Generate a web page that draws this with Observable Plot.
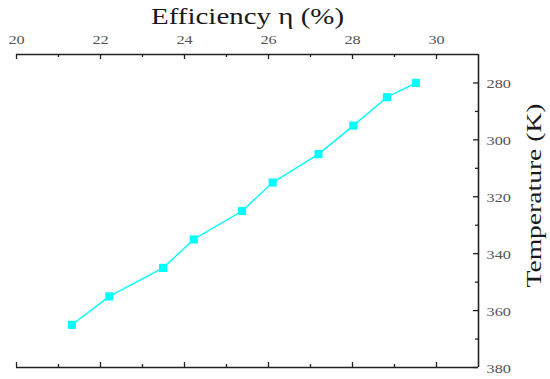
<!DOCTYPE html>
<html>
<head>
<meta charset="utf-8">
<script src="https://cdn.jsdelivr.net/npm/d3@7"></script>
<script src="https://cdn.jsdelivr.net/npm/@observablehq/plot@0.6"></script>
<style>
  html, body { margin: 0; padding: 0; background: #fff; }
  #chart svg { display: block; }
</style>
</head>
<body>
<div id="chart"></div>
<script>
// Data
const efficiency = [21.32, 22.21, 23.49, 24.22, 25.37, 26.10, 27.19, 28.02, 28.82, 29.51];
const temperature = [365, 355, 345, 335, 325, 315, 305, 295, 285, 280];
const xMajorTicks = [20, 22, 24, 26, 28, 30];
const xMinorTicks = [21, 23, 25, 27, 29];
const yMajorTicks = [280, 300, 320, 340, 360, 380];
const yMinorTicks = [290, 310, 330, 350, 370];
const xTitle = "Efficiency η (%)";
const yTitle = "Temperature (K)";

const data = efficiency.map((e, i) => ({e, t: temperature[i]}));

const W = 550, H = 379;
const mL = 16, mR = 72, mT = 54, mB = 12;
const frameW = W - mL - mR, frameH = H - mT - mB;
const serif = "'Liberation Serif', 'Times New Roman', serif";
const axisColor = "#222";

const chart = Plot.plot({
  width: W,
  height: H,
  marginLeft: mL,
  marginRight: mR,
  marginTop: mT,
  marginBottom: mB,
  style: {background: "#fff"},
  x: {domain: [20, 31], axis: null},
  y: {domain: [270, 380], reverse: true, axis: null},
  marks: [
    // tick labels
    Plot.axisX({anchor: "top", ticks: xMajorTicks, tickSize: 0, tickPadding: 11, fontSize: 12.5, color: "#555", label: null, tickFormat: d => String(d)}),
    Plot.axisY({anchor: "right", ticks: yMajorTicks, tickSize: 0, tickPadding: 8, dy: 1.5, fontSize: 12.5, color: "#555", label: null, tickFormat: d => String(d)}),
    // inward tick marks: top
    Plot.tickX(xMajorTicks, {x: d => d, insetBottom: frameH - 5, stroke: axisColor, strokeWidth: 1.3}),
    Plot.tickX(xMinorTicks, {x: d => d, insetBottom: frameH - 3, stroke: axisColor, strokeWidth: 1.3}),
    // bottom
    Plot.tickX(xMajorTicks, {x: d => d, insetTop: frameH - 5, stroke: axisColor, strokeWidth: 1.3}),
    Plot.tickX(xMinorTicks, {x: d => d, insetTop: frameH - 3, stroke: axisColor, strokeWidth: 1.3}),
    // right
    Plot.tickY(yMajorTicks, {y: d => d, insetLeft: frameW - 5, stroke: axisColor, strokeWidth: 1.3}),
    Plot.tickY(yMinorTicks, {y: d => d, insetLeft: frameW - 3, stroke: axisColor, strokeWidth: 1.3}),
    // axis lines
    Plot.ruleY([270, 380], {stroke: axisColor, strokeWidth: 1.6}),
    Plot.ruleX([31], {stroke: axisColor, strokeWidth: 1.6}),
    // data
    Plot.line(data, {x: "e", y: "t", stroke: "#00FFFF", strokeWidth: 1.4}),
    Plot.dot(data, {x: "e", y: "t", symbol: "square", r: 4.6, fill: "#00FFFF", stroke: "none"}),
    // titles
    Plot.text([xTitle], {frameAnchor: "top", lineAnchor: "middle", textAnchor: "middle", dy: -38.4, text: d => d, fontSize: 24, fill: "#1a1a1a", fontFamily: serif}),
    Plot.text([yTitle], {frameAnchor: "right", lineAnchor: "middle", textAnchor: "middle", dx: 55.6, dy: -15.5, rotate: -90, text: d => d, fontSize: 20, fill: "#1a1a1a", fontFamily: serif})
  ]
});
document.getElementById("chart").appendChild(chart);

// Serif lettering, widened like the reference's stretched glyphs
chart.querySelectorAll("text").forEach(t => {
  t.setAttribute("font-family", serif);
  t.style.fontFamily = serif;
});
chart.querySelectorAll("text").forEach(t => {
  const s = t.textContent;
  let target;
  if (s === xTitle) target = 193;
  else if (s === yTitle) target = 184;
  else target = t.getComputedTextLength() * 1.3;
  t.setAttribute("textLength", target);
  t.setAttribute("lengthAdjust", "spacingAndGlyphs");
});
</script>
</body>
</html>
